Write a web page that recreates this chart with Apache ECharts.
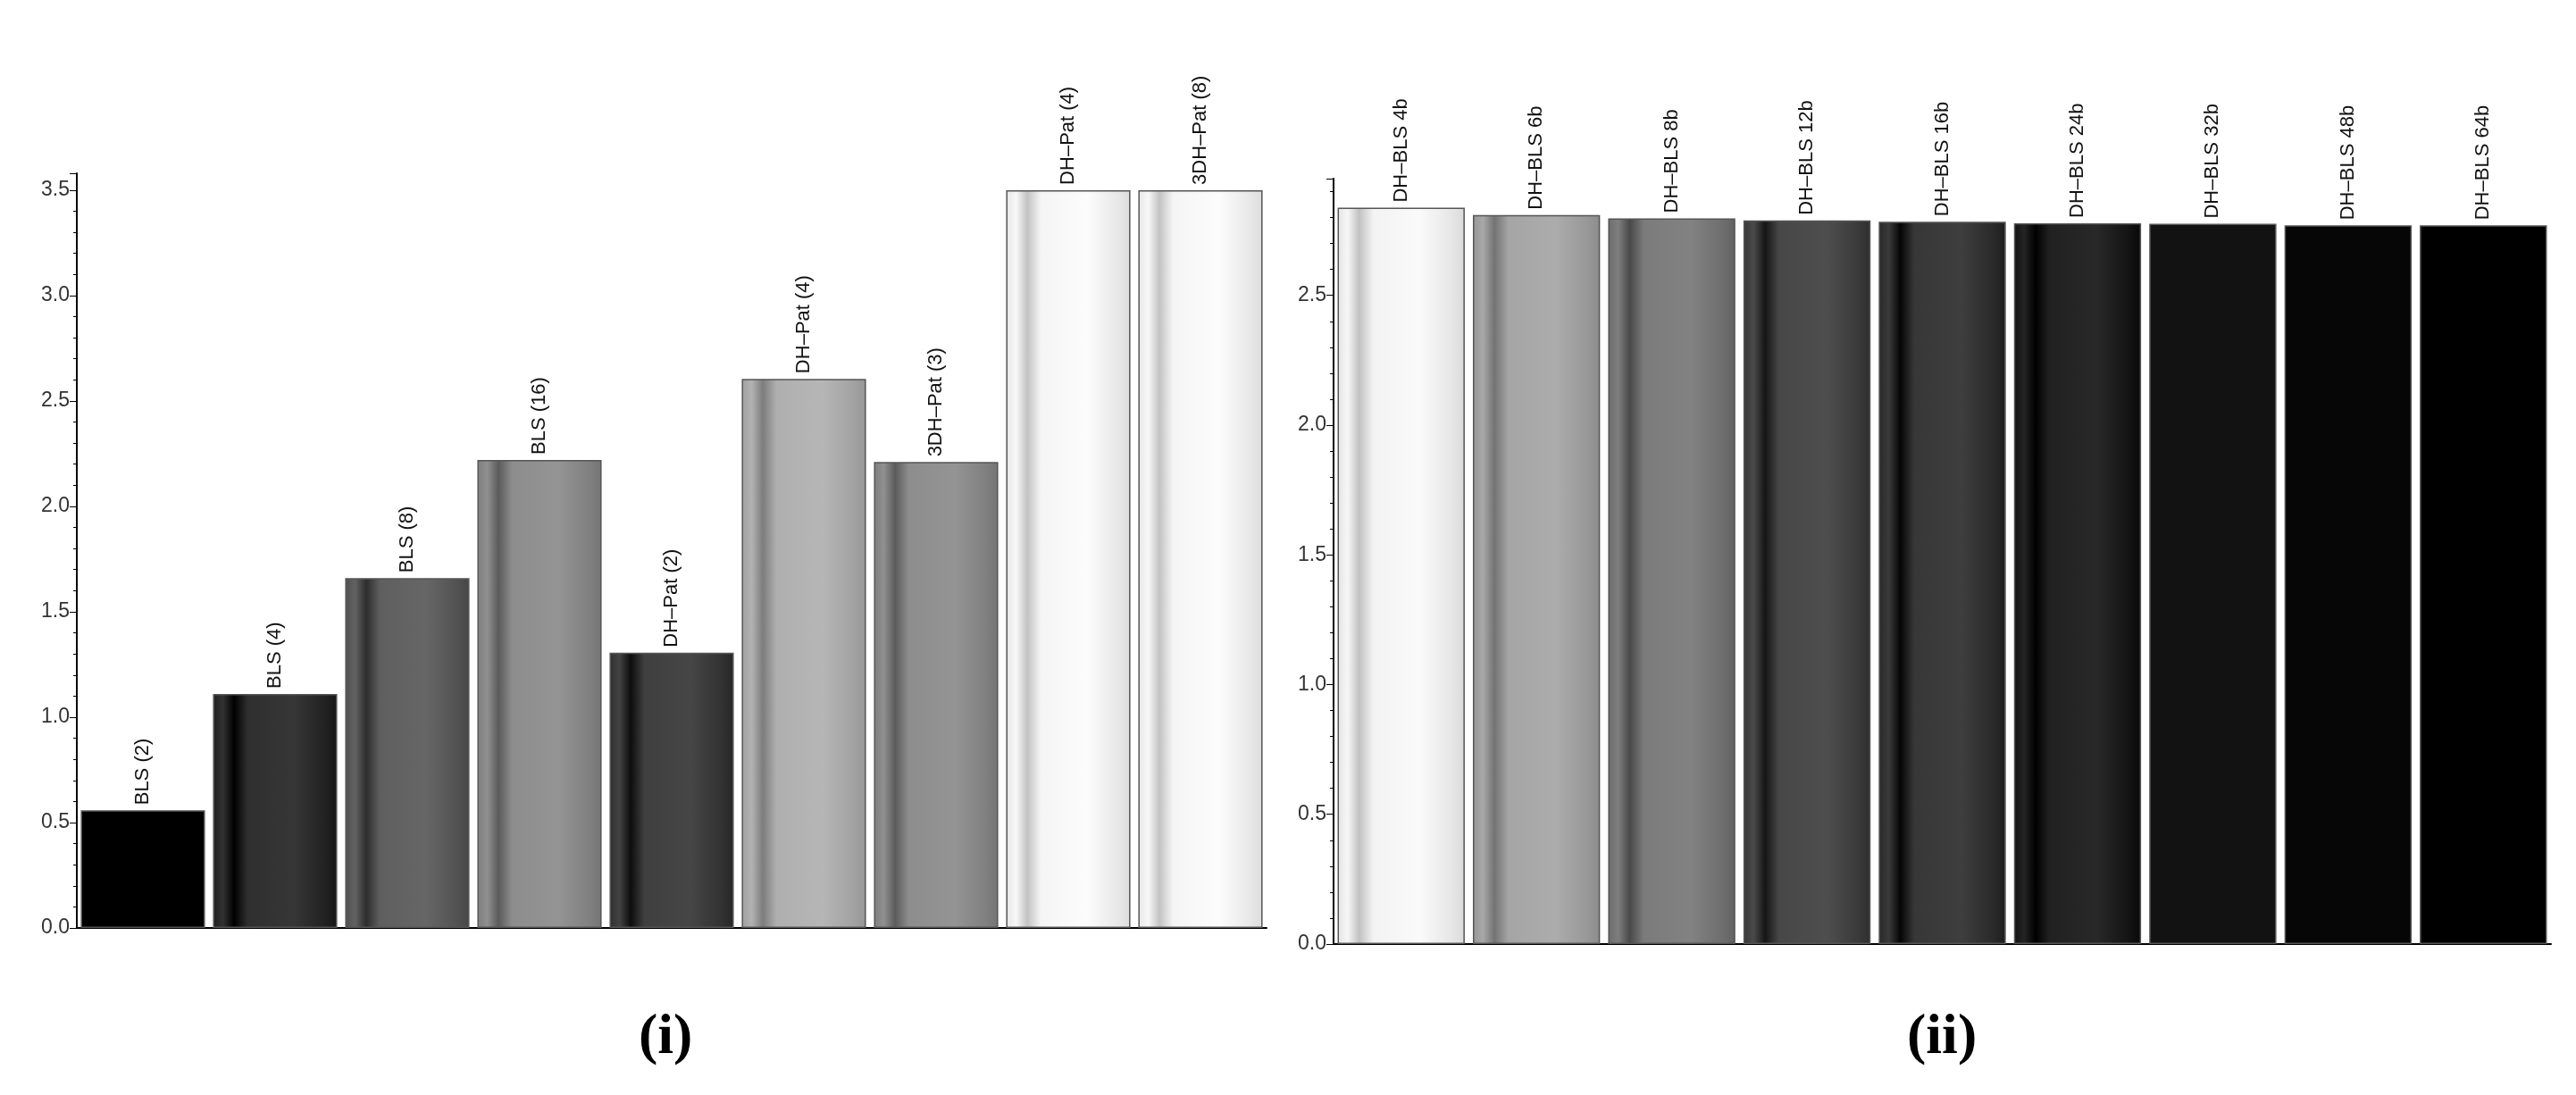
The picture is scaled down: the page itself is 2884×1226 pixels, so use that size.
<!DOCTYPE html><html><head><meta charset="utf-8">
<script src="https://cdn.jsdelivr.net/npm/echarts@6/dist/echarts.min.js"></script>
<style>html,body{margin:0;background:#fff}#c{width:2884px;height:1226px}</style></head><body><div id="c"></div>
<script>
const leftCats=['BLS (2)','BLS (4)','BLS (8)','BLS (16)','DH\u2013Pat (2)','DH\u2013Pat (4)','3DH\u2013Pat (3)','DH\u2013Pat (4)','3DH\u2013Pat (8)'];
const leftVals=[0.558,1.11,1.66,2.22,1.306,2.605,2.21,3.5,3.5];
const leftShades=[0,42,90,136,58,170,136,240,240];
const rightCats=['DH\u2013BLS 4b','DH\u2013BLS 6b','DH\u2013BLS 8b','DH\u2013BLS 12b','DH\u2013BLS 16b','DH\u2013BLS 24b','DH\u2013BLS 32b','DH\u2013BLS 48b','DH\u2013BLS 64b'];
const rightVals=[2.838,2.81,2.797,2.789,2.784,2.778,2.776,2.77,2.77];
const rightShades=[238,160,118,66,50,28,18,6,0];
const c=v=>{v=Math.max(0,Math.min(255,Math.round(v)));return 'rgb('+v+','+v+','+v+')';};
function grad(s){
  const d=s<20?0:1;
  return {type:'linear',x:0,y:0,x2:1,y2:0,colorStops:[
    {offset:0,color:c(s-10*d)},{offset:0.08,color:c(s+8*d)},{offset:0.17,color:c(s-45*d)},
    {offset:0.28,color:c(s+5*d)},{offset:0.65,color:c(s+12*d)},{offset:0.9,color:c(s-8*d)},{offset:1,color:c(s-20*d)}]};
}
const font='"Liberation Sans", Arial, sans-serif';
function yAx(gi,max){return {type:'value',gridIndex:gi,min:0,max:max,interval:0.5,
  axisLine:{show:true,lineStyle:{color:'#000',width:2}},axisTick:{show:true,length:8,lineStyle:{color:'#000'}},
  minorTick:{show:true,splitNumber:5,length:4,lineStyle:{color:'#000'}},splitLine:{show:false},
  axisLabel:{showMaxLabel:false,color:'#333',fontFamily:font,fontSize:23,formatter:v=>v.toFixed(1)}};}
function xAx(gi,cats){return {type:'category',gridIndex:gi,data:cats,axisLine:{lineStyle:{color:'#000',width:2}},
  axisTick:{show:false},axisLabel:{show:false}};}
function ser(i,vals,shades){return {type:'bar',xAxisIndex:i,yAxisIndex:i,barCategoryGap:'6%',
  data:vals.map((v,k)=>({value:v,itemStyle:{color:grad(shades[k]),borderColor:'#555',borderWidth:1.5}})),
  label:{show:true,position:'top',rotate:90,align:'left',verticalAlign:'middle',distance:6,color:'#111',fontFamily:font,fontSize:22,
   formatter:p=>(i===0?leftCats:rightCats)[p.dataIndex]}};}
const ch=echarts.init(document.getElementById('c'));
ch.setOption({animation:false,
  grid:[{left:86,right:1466,top:194,bottom:187},{left:1493,right:28,top:200,bottom:169}],
  xAxis:[xAx(0,leftCats),xAx(1,rightCats)],yAxis:[yAx(0,3.58),yAx(1,2.95)],
  series:[ser(0,leftVals,leftShades),ser(1,rightVals,rightShades)],
  graphic:[{type:'text',left:745-30,top:1130,style:{text:'(i)',font:'bold 64px "Liberation Serif", serif',fill:'#000'}},
    {type:'text',left:2175-40,top:1130,style:{text:'(ii)',font:'bold 64px "Liberation Serif", serif',fill:'#000'}}]
});
</script></body></html>
